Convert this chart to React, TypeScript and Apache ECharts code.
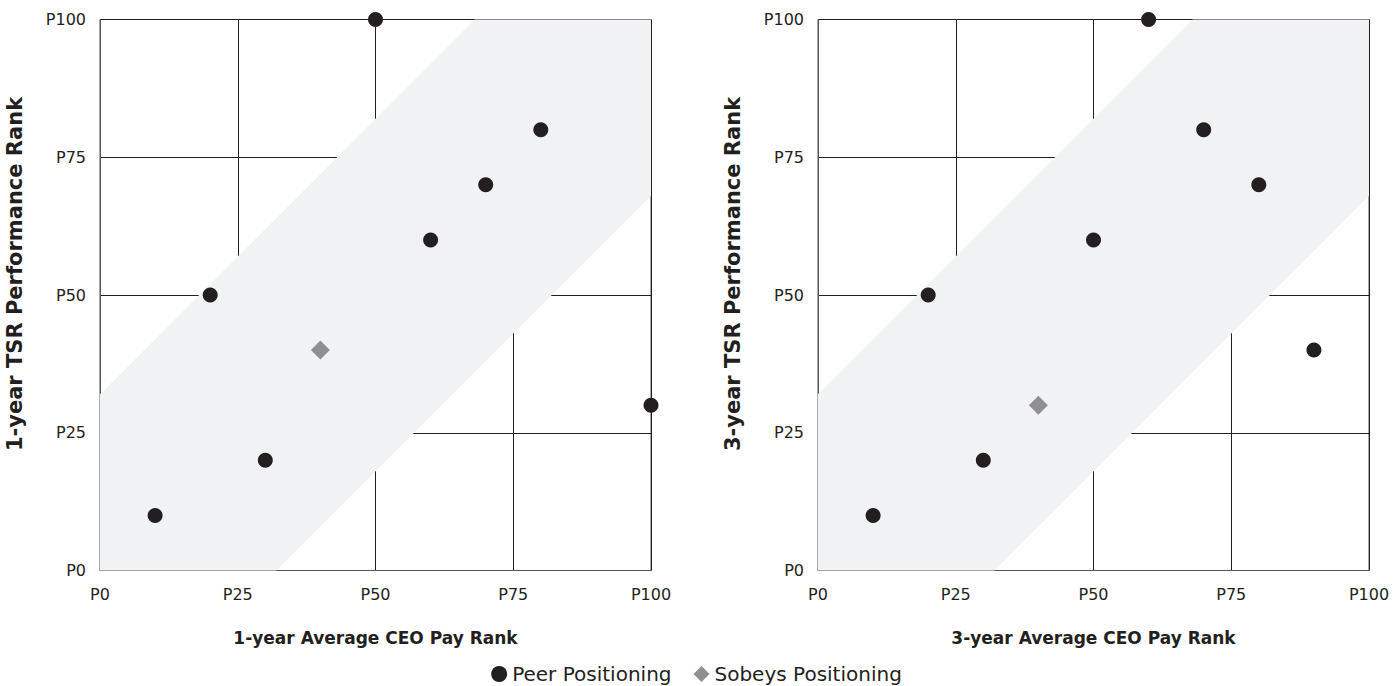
import React, { useEffect, useRef } from "react";
import * as echarts from "echarts";

const tickValues = [0, 25, 50, 75, 100];
const peer1y: number[][] = [[10, 10], [20, 50], [30, 20], [50, 100], [60, 60], [70, 70], [80, 80], [100, 30]];
const sobeys1y: number[][] = [[40, 40]];
const peer3y: number[][] = [[10, 10], [20, 50], [30, 20], [50, 60], [60, 100], [70, 80], [80, 70], [90, 40]];
const sobeys3y: number[][] = [[40, 30]];
const bandPolygon: number[][] = [[0, 0], [0, 32], [68, 100], [100, 100], [100, 68], [32, 0]];
const xTitles = ["1-year Average CEO Pay Rank", "3-year Average CEO Pay Rank"];
const yTitles = ["1-year TSR Performance Rank", "3-year TSR Performance Rank"];

const FONT = "DejaVu Sans";
const TEXT = "#231f20";

export default function App() {
  const ref = useRef<HTMLDivElement>(null);
  useEffect(() => {
    document.body.style.margin = "0";
    const chart = echarts.init(ref.current!, null, { renderer: "svg" });
    const mkX = (i: number) => ({
      type: "value",
      gridIndex: i,
      min: tickValues[0],
      max: tickValues[tickValues.length - 1],
      interval: 25,
      name: xTitles[i],
      nameLocation: "middle",
      nameGap: 59,
      nameTextStyle: { fontFamily: FONT, fontWeight: "bold", fontSize: 17, color: TEXT },
      axisLine: { show: true, lineStyle: { color: "#555", width: 1 } },
      axisTick: { show: false },
      axisLabel: { formatter: (v: number) => "P" + v, fontFamily: FONT, fontSize: 16, color: TEXT, margin: 16 },
      splitLine: { show: true, lineStyle: { color: TEXT, width: 1 } },
    });
    const mkY = (i: number) => ({
      type: "value",
      gridIndex: i,
      min: tickValues[0],
      max: tickValues[tickValues.length - 1],
      interval: 25,
      name: yTitles[i],
      nameLocation: "middle",
      nameGap: 75,
      nameTextStyle: { fontFamily: FONT, fontWeight: "bold", fontSize: 21, color: TEXT, padding: [0, 0, 0, 42] },
      axisLine: { show: true, lineStyle: { color: "#555", width: 1 } },
      axisTick: { show: false },
      axisLabel: { formatter: (v: number) => "P" + v, fontFamily: FONT, fontSize: 16, color: TEXT, margin: 14 },
      splitLine: { show: true, lineStyle: { color: TEXT, width: 1 } },
    });
    const band = (i: number) => ({
      type: "custom",
      xAxisIndex: i,
      yAxisIndex: i,
      silent: true,
      z: 1,
      data: [0],
      renderItem: (_params: any, api: any) => ({
        type: "polygon",
        shape: { points: bandPolygon.map((p) => api.coord(p)) },
        style: { fill: "#f1f2f4" },
      }),
    });
    const peer = (i: number, data: number[][]) => ({
      type: "scatter",
      name: "Peer Positioning",
      xAxisIndex: i,
      yAxisIndex: i,
      symbol: "circle",
      symbolSize: 15,
      itemStyle: { color: TEXT, opacity: 1 },
      data,
      z: 5,
    });
    const sob = (i: number, data: number[][]) => ({
      type: "scatter",
      name: "Sobeys Positioning",
      xAxisIndex: i,
      yAxisIndex: i,
      symbol: "diamond",
      symbolSize: 19,
      itemStyle: { color: "#8f8f91", opacity: 1 },
      data,
      z: 5,
    });
    chart.setOption({
      animation: false,
      grid: [
        { left: 100, top: 19.5, width: 551, height: 551, show: true, borderColor: "#555", borderWidth: 1 },
        { left: 818, top: 19.5, width: 551, height: 551, show: true, borderColor: "#555", borderWidth: 1 },
      ],
      xAxis: [mkX(0), mkX(1)],
      yAxis: [mkY(0), mkY(1)],
      legend: {
        data: [
          { name: "Peer Positioning", icon: "circle" },
          { name: "Sobeys Positioning", icon: "diamond" },
        ],
        left: "center",
        top: 664,
        padding: 0,
        itemWidth: 16,
        itemHeight: 16,
        itemGap: 22,
        itemStyle: { opacity: 1 },
        textStyle: { fontFamily: FONT, fontSize: 20, lineHeight: 20, color: TEXT },
      },
      series: [band(0), band(1), peer(0, peer1y), sob(0, sobeys1y), peer(1, peer3y), sob(1, sobeys3y)],
    });
    return () => chart.dispose();
  }, []);
  return <div ref={ref} style={{ width: 1393, height: 686 }} />;
}
